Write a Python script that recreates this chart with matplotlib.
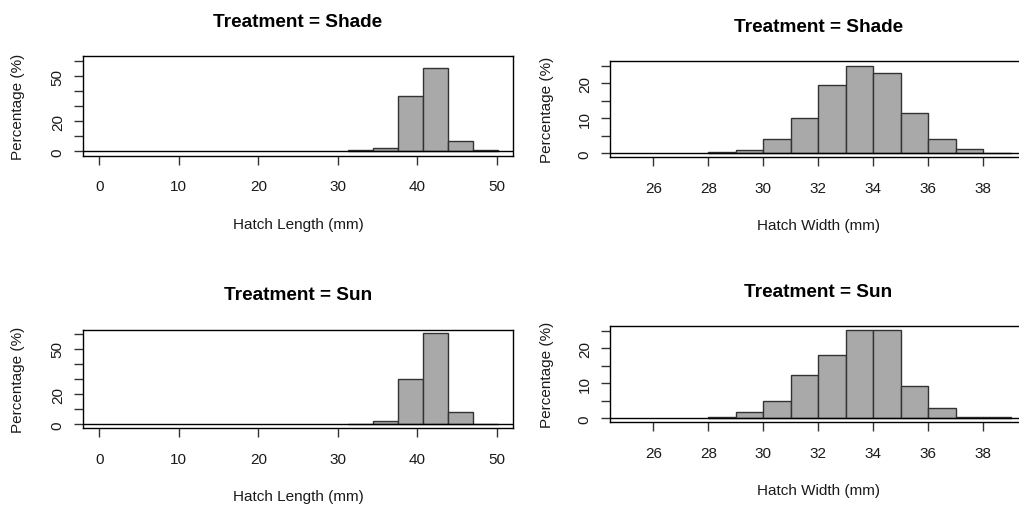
import matplotlib
matplotlib.use("Agg")
import matplotlib.pyplot as plt

plt.rcParams['font.family'] = ['Liberation Sans', 'DejaVu Sans']

# ---- data ----
length_edges = [31.25, 34.4, 37.55, 40.7, 43.85, 47.0, 50.15]
shade_length_pct = [0.7, 2.2, 36.9, 55.3, 6.7, 0.7]
sun_length_pct = [0.0, 2.0, 30.2, 60.3, 7.9, 0.0]

width_edges = [28, 29, 30, 31, 32, 33, 34, 35, 36, 37, 38, 39]
shade_width_pct = [0.3, 0.95, 4.2, 10.2, 19.5, 25.0, 22.85, 11.5, 4.2, 1.25, 0.0]
sun_width_pct = [0.3, 1.7, 4.95, 12.4, 18.2, 25.3, 25.3, 9.15, 2.85, 0.3, 0.3]

titles = ["Treatment = Shade", "Treatment = Shade", "Treatment = Sun", "Treatment = Sun"]
xlabels = ["Hatch Length (mm)", "Hatch Width (mm)", "Hatch Length (mm)", "Hatch Width (mm)"]
ylabel = "Percentage (%)"

length_ticks = [0, 10, 20, 30, 40, 50]
width_ticks = [26, 28, 30, 32, 34, 36, 38]
length_yticks = [0, 10, 20, 30, 40, 50, 60]
length_ylabels = ["0", "", "20", "", "", "50", ""]
width_yticks = [0, 5, 10, 15, 20, 25]
width_ylabels = ["0", "", "10", "", "20", ""]

W, H = 1019, 506
fig = plt.figure(figsize=(W / 100, H / 100), dpi=100)

def box(l, t, r, b):
    return [l / W, 1 - b / H, (r - l) / W, (b - t) / H]

panels = [
    dict(rect=box(83.4, 57.3, 512.6, 156.7), edges=length_edges, pct=shade_length_pct,
         xlim=(-2, 52), ylim=(-2.9, 63.3), xt=length_ticks, yt=length_yticks, yl=length_ylabels,
         ylab_off=-65),
    dict(rect=box(610.4, 62.3, 1026.2, 158.3), edges=width_edges, pct=shade_width_pct,
         xlim=(24.44, 39.56), ylim=(-1.14, 26.29), xt=width_ticks, yt=width_yticks, yl=width_ylabels,
         ylab_off=-63),
    dict(rect=box(83.4, 330.7, 512.6, 429.0), edges=length_edges, pct=sun_length_pct,
         xlim=(-2, 52), ylim=(-2.43, 62.7), xt=length_ticks, yt=length_yticks, yl=length_ylabels,
         ylab_off=-65),
    dict(rect=box(610.4, 327.3, 1026.2, 423.3), edges=width_edges, pct=sun_width_pct,
         xlim=(24.44, 39.56), ylim=(-1.14, 26.29), xt=width_ticks, yt=width_yticks, yl=width_ylabels,
         ylab_off=-63),
]

txt = '#1a1a1a'
for i, p in enumerate(panels):
    ax = fig.add_axes(p['rect'])
    e = p['edges']
    lefts = e[:-1]
    widths = [e[k + 1] - e[k] for k in range(len(e) - 1)]
    ax.bar(lefts, p['pct'], width=widths, align='edge', color='#a9a9a9',
           edgecolor='#333333', linewidth=1.0, zorder=2)
    ax.axhline(0, color='black', linewidth=1.0, zorder=3)
    ax.set_xlim(*p['xlim'])
    ax.set_ylim(*p['ylim'])
    ax.set_xticks(p['xt'])
    ax.set_xticklabels([str(v) for v in p['xt']])
    ax.set_yticks(p['yt'])
    ax.set_yticklabels(p['yl'])
    for s in ax.spines.values():
        s.set_linewidth(1.0)
        s.set_color('black')
    ax.tick_params(axis='both', direction='out', length=6.2, width=1.0, colors='#333333',
                   labelsize=11, labelcolor=txt)
    ax.tick_params(axis='x', pad=10.8)
    ax.tick_params(axis='y', pad=7.2, labelrotation=90)
    for lab in ax.get_yticklabels():
        lab.set_verticalalignment('center')
        lab.set_horizontalalignment('right')
    ax.annotate(titles[i], xy=(0.5, 1), xycoords='axes fraction', xytext=(0, 30.6),
                textcoords='offset pixels', ha='center', va='baseline',
                fontsize=13.7, fontweight='bold', color='black')
    ax.annotate(xlabels[i], xy=(0.5, 0), xycoords='axes fraction', xytext=(0, -68),
                textcoords='offset pixels', ha='center', va='center',
                fontsize=11, color=txt)
    ax.annotate(ylabel, xy=(0, 0.5), xycoords='axes fraction', xytext=(p['ylab_off'], 0),
                textcoords='offset pixels', ha='center', va='center', rotation=90,
                fontsize=11, color=txt)

fig.savefig("out.png", dpi=100)
